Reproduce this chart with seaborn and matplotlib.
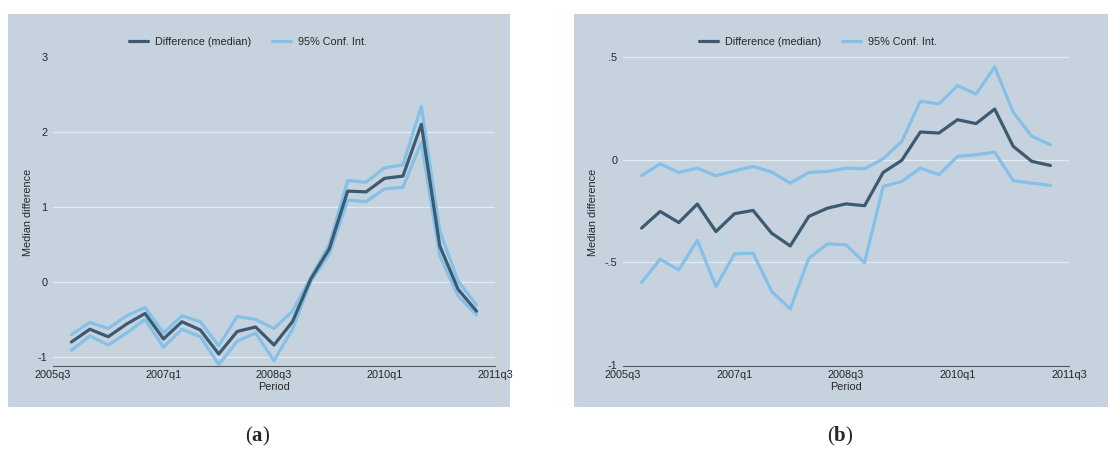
import pandas as pd
import matplotlib.pyplot as plt
import seaborn as sns

# quarters 2005q4 .. 2011q2
quarters = pd.period_range("2005Q4", "2011Q2", freq="Q")

# panel (a)
a_median = [-0.80, -0.63, -0.73, -0.56, -0.42, -0.76, -0.53, -0.64, -0.96, -0.66, -0.60, -0.84,
            -0.53, 0.04, 0.44, 1.21, 1.20, 1.38, 1.41, 2.10, 0.48, -0.10, -0.39]
a_upper = [-0.70, -0.54, -0.62, -0.45, -0.34, -0.68, -0.45, -0.53, -0.85, -0.46, -0.50, -0.62,
           -0.39, 0.06, 0.50, 1.35, 1.33, 1.52, 1.56, 2.34, 0.68, 0.01, -0.31]
a_lower = [-0.91, -0.72, -0.84, -0.68, -0.50, -0.87, -0.63, -0.73, -1.10, -0.79, -0.68, -1.05,
           -0.63, 0.01, 0.37, 1.09, 1.07, 1.24, 1.26, 1.86, 0.35, -0.19, -0.44]

# panel (b)
b_median = [-0.333, -0.252, -0.306, -0.216, -0.350, -0.263, -0.247, -0.358, -0.420, -0.276, -0.236,
            -0.215, -0.224, -0.062, -0.003, 0.135, 0.130, 0.195, 0.176, 0.247, 0.065, -0.008, -0.028]
b_upper = [-0.078, -0.020, -0.062, -0.041, -0.078, -0.054, -0.033, -0.060, -0.114, -0.062, -0.057,
           -0.041, -0.044, 0.005, 0.089, 0.285, 0.272, 0.361, 0.320, 0.452, 0.231, 0.114, 0.073]
b_lower = [-0.598, -0.485, -0.537, -0.393, -0.618, -0.459, -0.455, -0.642, -0.727, -0.480, -0.410,
           -0.415, -0.501, -0.130, -0.106, -0.041, -0.073, 0.016, 0.024, 0.037, -0.102, -0.114, -0.125]

xtick_labels = ["2005q3", "2007q1", "2008q3", "2010q1", "2011q3"]
a_yticks = [-1, 0, 1, 2, 3]
a_ylabels = ["-1", "0", "1", "2", "3"]
b_yticks = [-1, -0.5, 0, 0.5]
b_ylabels = ["-1", "-.5", "0", ".5"]

sns.set_style("white")
plt.rcParams["font.family"] = ["Liberation Sans", "DejaVu Sans"]
plt.rcParams["mathtext.fontset"] = "custom"
plt.rcParams["mathtext.bf"] = "Liberation Serif:bold"

dark = "#3c5a70"
light = "#84c0e8"
bg = "#c6d3df"
grid = "#e3eaf0"

W, H = 1110, 450
fig = plt.figure(figsize=(W / 100, H / 100), dpi=100)


def px(x0, y0, x1, y1):
    return [x0 / W, 1 - y1 / H, (x1 - x0) / W, (y1 - y0) / H]


# panel backgrounds
for x0, x1 in [(8, 510), (574, 1108)]:
    fig.patches.append(plt.Rectangle((x0 / W, 1 - 407 / H), (x1 - x0) / W, 393 / H,
                                     transform=fig.transFigure, facecolor=bg,
                                     edgecolor="none", zorder=-5))

base = pd.Period("2005Q3", freq="Q")
xpos = [(q - base).n for q in quarters]


def panel(rect, med, up, lo, ylim, yticks, ylabels, grids, legend_x, ylab_x, cap_x, cap):
    ax = fig.add_axes(rect)
    ax.set_facecolor("none")
    df = pd.DataFrame({"x": xpos, "median": med, "upper": up, "lower": lo})
    sns.lineplot(data=df, x="x", y="upper", color=light, lw=2.3, ax=ax, zorder=3)
    sns.lineplot(data=df, x="x", y="lower", color=light, lw=2.3, ax=ax, zorder=3)
    sns.lineplot(data=df, x="x", y="median", color=dark, lw=2.3, ax=ax, zorder=4)
    for g in grids:
        ax.axhline(g, color=grid, lw=0.9, zorder=1)
    ax.set_xlim(0, 24)
    ax.set_ylim(*ylim)
    ax.set_xticks([0, 6, 12, 18, 24])
    ax.set_xticklabels(xtick_labels)
    ax.set_yticks(yticks)
    ax.set_yticklabels(ylabels)
    ax.tick_params(axis="x", direction="in", length=3, width=0.7, color="#555555",
                   labelsize=7.8, pad=3)
    ax.tick_params(axis="y", length=0, labelsize=7.8, pad=4)
    for s in ["top", "right", "left"]:
        ax.spines[s].set_visible(False)
    ax.spines["bottom"].set_color("#555555")
    ax.spines["bottom"].set_linewidth(0.8)
    ax.set_xlabel("Period", fontsize=7.8, labelpad=1)
    ax.set_ylabel("")
    fig.text(ylab_x / W, 1 - 212 / H, "Median difference", rotation=90,
             fontsize=7.8, ha="center", va="center")
    h1, = ax.plot([], [], color=dark, lw=2.3)
    h2, = ax.plot([], [], color=light, lw=2.3)
    fig.legend([h1, h2], ["Difference (median)", "95% Conf. Int."], loc="center",
               bbox_to_anchor=(legend_x / W, 1 - 42 / H), ncol=2, frameon=False,
               fontsize=7.8, handlelength=1.75, columnspacing=2.0, handletextpad=0.6)
    fig.text(cap_x / W, 1 - 436 / H, cap, fontsize=15, ha="center", va="center",
             family="Liberation Serif")
    return ax


panel(px(53, 53, 495, 366), a_median, a_upper, a_lower, (-1.12, 3.05),
      a_yticks, a_ylabels, [-1, 0, 1, 2], 248, 28, 258, r"($\mathbf{a}$)")
panel(px(623, 53, 1069, 366), b_median, b_upper, b_lower, (-1.005, 0.52),
      b_yticks, b_ylabels, [-0.5, 0, 0.5], 818, 593, 840, r"($\mathbf{b}$)")

plt.savefig("out.png", dpi=100)
